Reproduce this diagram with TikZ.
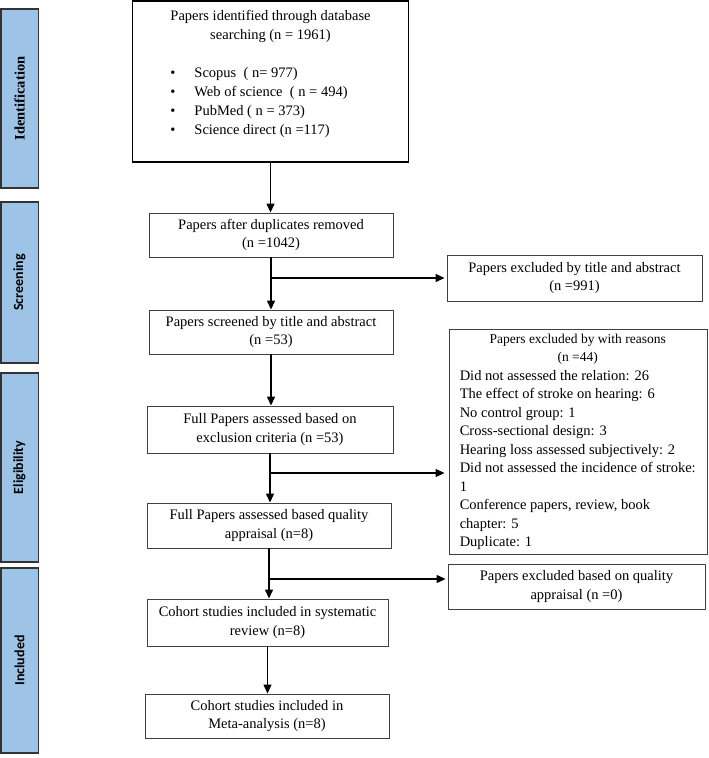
\documentclass[tikz,border=0pt]{standalone}
\usepackage{fontspec}
\setmainfont{Liberation Serif}
\newfontfamily\carlito{Carlito}
\usetikzlibrary{arrows.meta}
\definecolor{sidefill}{HTML}{9DC3E6}
\begin{document}
\begin{tikzpicture}[x=1pt,y=-1pt,
  side/.style={draw=black!80, line width=1.5pt, fill=sidefill, minimum width=37.5pt, inner sep=0},
  sidetext/.style={rotate=90, inner sep=0, font=\carlito\bfseries\fontsize{14}{16}\selectfont},
  box/.style={draw=black!75, line width=0.9pt, align=center, inner sep=0, font=\fontsize{14.5}{18.5}\selectfont},
  arr/.style={line width=1.3pt, -{Triangle[length=9pt,width=8pt]}},
  txt/.style={inner sep=0, font=\fontsize{14.5}{19}\selectfont}
]
\useasboundingbox (0,0) rectangle (709,758);

% side bars
\node[side, minimum height=179pt] (sid) at (19.5,98.5) {};
\node[sidetext, font=\bfseries\fontsize{14.5}{16}\selectfont] (sidt) at (sid.center) {Identification};
\node[side, minimum height=161pt] (sscr) at (19.5,282.5) {};
\node[sidetext] (sscrt) at (sscr.center) {Screening};
\node[side, minimum height=189pt] (sel) at (19.5,467.5) {};
\node[sidetext] (selt) at (sel.center) {Eligibility};
\node[side, minimum height=185pt] (sin) at (19.5,660.5) {};
\node[sidetext] (sint) at (sin.center) {Included};

% top box
\node[box, draw=black, line width=1.3pt, minimum width=276pt, minimum height=161pt] (top) at (270.5,81.5) {};
\node[txt, anchor=north] (toptxt) at (270.5,6.5) {\begin{tabular}{@{}l@{}}
\multicolumn{1}{@{}c@{}}{Papers identified through database}\\
\multicolumn{1}{@{}c@{}}{searching (n = 1961)}\\
\\
\makebox[24pt][l]{\textbullet}Scopus\ \ ( n= 977)\\
\makebox[24pt][l]{\textbullet}Web of science\ \ ( n = 494)\\
\makebox[24pt][l]{\textbullet}PubMed ( n = 373)\\
\makebox[24pt][l]{\textbullet}Science direct (n =117)
\end{tabular}};

% main column
\node[box, minimum width=244pt, minimum height=44pt] (dup) at (271,235) {Papers after duplicates removed\\(n =1042)};
\node[box, minimum width=244pt, minimum height=44pt] (scr) at (271,332) {Papers screened by title and abstract\\(n =53)};
\node[box, minimum width=246pt, minimum height=47pt] (full) at (270,429.5) {Full Papers assessed based on\\exclusion criteria (n =53)};
\node[box, minimum width=244pt, minimum height=45pt] (qual) at (269,525.5) {Full Papers assessed based quality\\appraisal (n=8)};
\node[box, minimum width=241pt, minimum height=47pt] (coh) at (267.5,622.5) {Cohort studies included in systematic\\review (n=8)};
\node[box, minimum width=244pt, minimum height=44pt] (meta) at (267,716) {Cohort studies included in\\Meta-analysis (n=8)};

% exclusion boxes
\node[box, minimum width=255pt, minimum height=46pt] (ex1) at (574.5,278) {Papers excluded by title and abstract\\(n =991)};
\node[box, minimum width=258pt, minimum height=225pt] (ex2) at (578,441.5) {};
\node[txt, anchor=north west, font=\fontsize{14.5}{18.5}\selectfont] (ex2txt) at ([xshift=11pt,yshift=-1.5pt]ex2.north west) {\begin{tabular}{@{}l@{}}
\multicolumn{1}{@{}c@{}}{\fontsize{13.5}{18}\selectfont Papers excluded by with reasons}\\
\multicolumn{1}{@{}c@{}}{\fontsize{13.5}{18}\selectfont (n =44)}\\
Did not assessed the relation: 26\\
The effect of stroke on hearing: 6\\
No control group: 1\\
Cross-sectional design: 3\\
Hearing loss assessed subjectively: 2\\
Did not assessed the incidence of stroke:\\
1\\
Conference papers, review, book\\
chapter: 5\\
Duplicate: 1
\end{tabular}};
\node[box, minimum width=257pt, minimum height=45pt] (ex3) at (576.5,586.5) {Papers excluded based on quality\\appraisal (n =0)};

% vertical arrows
\draw[arr] (top.south) -- (top.south |- dup.north);
\draw[arr] (dup.south) -- (dup.south |- scr.north);
\draw[arr] (scr.south) -- (scr.south |- full.north);
\draw[arr] (full.south) -- (full.south |- qual.north);
\draw[arr] (qual.south) -- (qual.south |- coh.north);
\draw[arr] (coh.south) -- (coh.south |- meta.north);

% side branches
\coordinate (b1) at (dup.south |- ex1.west);
\draw[arr] (b1) -- ([xshift=-2pt]ex1.west);
\coordinate (b2) at (270,473);
\draw[arr] (b2) -- ([xshift=-4pt]b2 -| ex2.west);
\coordinate (b3) at (270,579);
\draw[arr] (b3) -- ([xshift=-2pt]b3 -| ex3.west);
\end{tikzpicture}
\end{document}
